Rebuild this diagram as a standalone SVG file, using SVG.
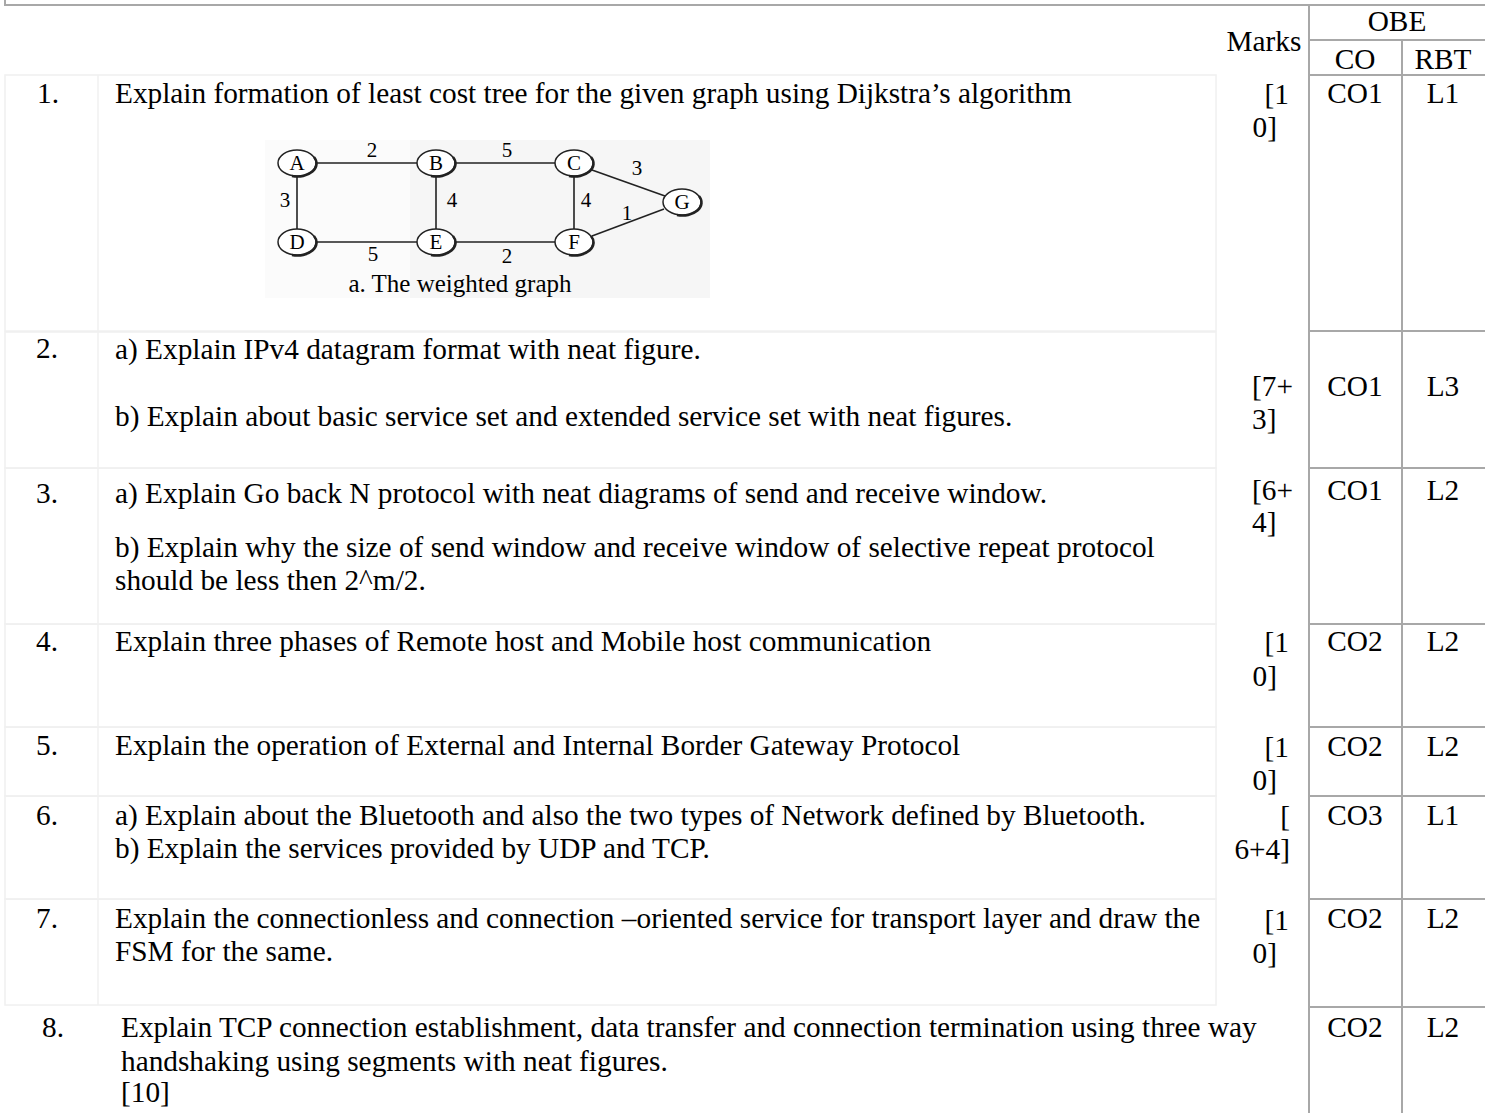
<svg xmlns="http://www.w3.org/2000/svg" width="1485" height="1113" viewBox="0 0 1485 1113">
<style>
  text { font-family: "Liberation Serif", "Times New Roman", serif; fill: #000; }
  .t { font-size: 29.3px; }
  .c { font-size: 29.3px; text-anchor: middle; }
  .e { font-size: 29.3px; text-anchor: end; }
  .grid { stroke: #a8a8a8; stroke-width: 2; fill: none; }
  .faint { stroke: #f0f0f0; stroke-width: 1.5; fill: none; }
  .edge { stroke: #222; stroke-width: 1.6; fill: none; }
  .node ellipse { fill: #fff; stroke: #222; stroke-width: 1.5; }
  .node path { fill: none; stroke: #222; stroke-width: 2.4; }
  .node text { font-size: 21px; text-anchor: middle; }
  .w { font-size: 21px; text-anchor: middle; }
</style>

<!-- faint question cell borders -->
<g id="faint-borders" class="faint">
  <rect x="5" y="75" width="1211" height="256"/>
  <rect x="5" y="332" width="1211" height="136"/>
  <rect x="5" y="468" width="1211" height="156"/>
  <rect x="5" y="624" width="1211" height="103"/>
  <rect x="5" y="727" width="1211" height="69"/>
  <rect x="5" y="796" width="1211" height="103"/>
  <rect x="5" y="899" width="1211" height="106"/>
  <line x1="98" y1="75" x2="98" y2="1005"/>
</g>

<!-- main grid -->
<g id="grid" class="grid">
  <path d="M5,0 V5 H1485"/>
  <line x1="1309" y1="5" x2="1309" y2="1113"/>
  <line x1="1402" y1="40" x2="1402" y2="1113"/>
  <line x1="1309" y1="40" x2="1485" y2="40"/>
  <line x1="1309" y1="75" x2="1485" y2="75"/>
  <line x1="1309" y1="331" x2="1485" y2="331"/>
  <line x1="1309" y1="468" x2="1485" y2="468"/>
  <line x1="1309" y1="624" x2="1485" y2="624"/>
  <line x1="1309" y1="727" x2="1485" y2="727"/>
  <line x1="1309" y1="796" x2="1485" y2="796"/>
  <line x1="1309" y1="899" x2="1485" y2="899"/>
  <line x1="1309" y1="1007" x2="1485" y2="1007"/>
</g>

<!-- header -->
<g id="header">
  <text class="c" x="1397" y="31">OBE</text>
  <text class="c" x="1264" y="51">Marks</text>
  <text class="c" x="1355" y="69">CO</text>
  <text class="c" x="1443" y="69">RBT</text>
</g>

<!-- row 1 -->
<g id="row1">
  <text class="t" x="37" y="103">1.</text>
  <text class="t" x="115" y="103">Explain formation of least cost tree for the given graph using Dijkstra’s algorithm</text>
  <text class="e" x="1289" y="104">[1</text>
  <text class="e" x="1277" y="137">0]</text>
  <text class="c" x="1355" y="103">CO1</text>
  <text class="c" x="1443" y="103">L1</text>
</g>

<!-- weighted graph figure -->
<g id="figure">
  <rect x="265" y="140" width="445" height="158" fill="#fbfbfb"/>
  <rect x="410" y="140" width="300" height="158" fill="#f6f6f6"/>
  <g id="connectors">
    <line class="edge" x1="316" y1="163" x2="417" y2="163"/>
    <line class="edge" x1="455" y1="163" x2="555" y2="163"/>
    <line class="edge" x1="592" y1="170" x2="665" y2="196"/>
    <line class="edge" x1="664" y1="209" x2="592" y2="236"/>
    <line class="edge" x1="297" y1="176" x2="297" y2="229"/>
    <line class="edge" x1="436" y1="176" x2="436" y2="229"/>
    <line class="edge" x1="574" y1="176" x2="574" y2="229"/>
    <line class="edge" x1="316" y1="242" x2="417" y2="242"/>
    <line class="edge" x1="455" y1="242" x2="555" y2="242"/>
    <text class="w" x="372" y="157">2</text>
    <text class="w" x="507" y="157">5</text>
    <text class="w" x="637" y="175">3</text>
    <text class="w" x="285" y="207">3</text>
    <text class="w" x="452" y="207">4</text>
    <text class="w" x="586" y="207">4</text>
    <text class="w" x="627" y="220">1</text>
    <text class="w" x="373" y="261">5</text>
    <text class="w" x="507" y="263">2</text>
  </g>
  <g id="node-A" class="node"><ellipse cx="297" cy="163" rx="19" ry="13"/><path d="M314,157 A19,13 0 0 1 292,176"/><text x="297" y="170">A</text></g>
  <g id="node-B" class="node"><ellipse cx="436" cy="163" rx="19" ry="13"/><path d="M453,157 A19,13 0 0 1 431,176"/><text x="436" y="170">B</text></g>
  <g id="node-C" class="node"><ellipse cx="574" cy="163" rx="19" ry="13"/><path d="M591,157 A19,13 0 0 1 569,176"/><text x="574" y="170">C</text></g>
  <g id="node-G" class="node"><ellipse cx="682" cy="202" rx="19" ry="13"/><path d="M699,196 A19,13 0 0 1 677,215"/><text x="682" y="209">G</text></g>
  <g id="node-D" class="node"><ellipse cx="297" cy="242" rx="19" ry="13"/><path d="M314,236 A19,13 0 0 1 292,255"/><text x="297" y="249">D</text></g>
  <g id="node-E" class="node"><ellipse cx="436" cy="242" rx="19" ry="13"/><path d="M453,236 A19,13 0 0 1 431,255"/><text x="436" y="249">E</text></g>
  <g id="node-F" class="node"><ellipse cx="574" cy="242" rx="19" ry="13"/><path d="M591,236 A19,13 0 0 1 569,255"/><text x="574" y="249">F</text></g>
  <text x="460" y="292" style="font-size:25px;text-anchor:middle">a. The weighted graph</text>
</g>

<!-- row 2 -->
<g id="row2">
  <text class="t" x="36" y="358">2.</text>
  <text class="t" x="115" y="359">a) Explain IPv4 datagram format with neat figure.</text>
  <text class="t" x="115" y="426">b) Explain about basic service set and extended service set with neat figures.</text>
  <text class="t" x="1252" y="396">[7+</text>
  <text class="t" x="1252" y="429">3]</text>
  <text class="c" x="1355" y="396">CO1</text>
  <text class="c" x="1443" y="396">L3</text>
</g>

<!-- row 3 -->
<g id="row3">
  <text class="t" x="36" y="503">3.</text>
  <text class="t" x="115" y="503">a) Explain Go back N protocol with neat diagrams of send and receive window.</text>
  <text class="t" x="115" y="557">b) Explain why the size of send window and receive window of selective repeat protocol</text>
  <text class="t" x="115" y="590">should be less then 2^m/2.</text>
  <text class="t" x="1252" y="500">[6+</text>
  <text class="t" x="1252" y="532">4]</text>
  <text class="c" x="1355" y="500">CO1</text>
  <text class="c" x="1443" y="500">L2</text>
</g>

<!-- row 4 -->
<g id="row4">
  <text class="t" x="36" y="651">4.</text>
  <text class="t" x="115" y="651">Explain three phases of Remote host and Mobile host communication</text>
  <text class="e" x="1289" y="652">[1</text>
  <text class="e" x="1277" y="686">0]</text>
  <text class="c" x="1355" y="651">CO2</text>
  <text class="c" x="1443" y="651">L2</text>
</g>

<!-- row 5 -->
<g id="row5">
  <text class="t" x="36" y="755">5.</text>
  <text class="t" x="115" y="755">Explain the operation of External and Internal Border Gateway Protocol</text>
  <text class="e" x="1289" y="757">[1</text>
  <text class="e" x="1277" y="790">0]</text>
  <text class="c" x="1355" y="756">CO2</text>
  <text class="c" x="1443" y="756">L2</text>
</g>

<!-- row 6 -->
<g id="row6">
  <text class="t" x="36" y="825">6.</text>
  <text class="t" x="115" y="825">a) Explain about the Bluetooth and also the two types of Network defined by Bluetooth.</text>
  <text class="t" x="115" y="858">b) Explain the services provided by UDP and TCP.</text>
  <text class="e" x="1290" y="826">[</text>
  <text class="e" x="1290" y="859">6+4]</text>
  <text class="c" x="1355" y="825">CO3</text>
  <text class="c" x="1443" y="825">L1</text>
</g>

<!-- row 7 -->
<g id="row7">
  <text class="t" x="36" y="928">7.</text>
  <text class="t" x="115" y="928">Explain the connectionless and connection –oriented service for transport layer and draw the</text>
  <text class="t" x="115" y="961">FSM for the same.</text>
  <text class="e" x="1289" y="930">[1</text>
  <text class="e" x="1277" y="963">0]</text>
  <text class="c" x="1355" y="928">CO2</text>
  <text class="c" x="1443" y="928">L2</text>
</g>

<!-- row 8 -->
<g id="row8">
  <text class="t" x="42" y="1037">8.</text>
  <text class="t" x="121" y="1037">Explain TCP connection establishment, data transfer and connection termination using three way</text>
  <text class="t" x="121" y="1071">handshaking using segments with neat figures.</text>
  <text class="t" x="121" y="1102">[10]</text>
  <text class="c" x="1355" y="1037">CO2</text>
  <text class="c" x="1443" y="1037">L2</text>
</g>
</svg>
